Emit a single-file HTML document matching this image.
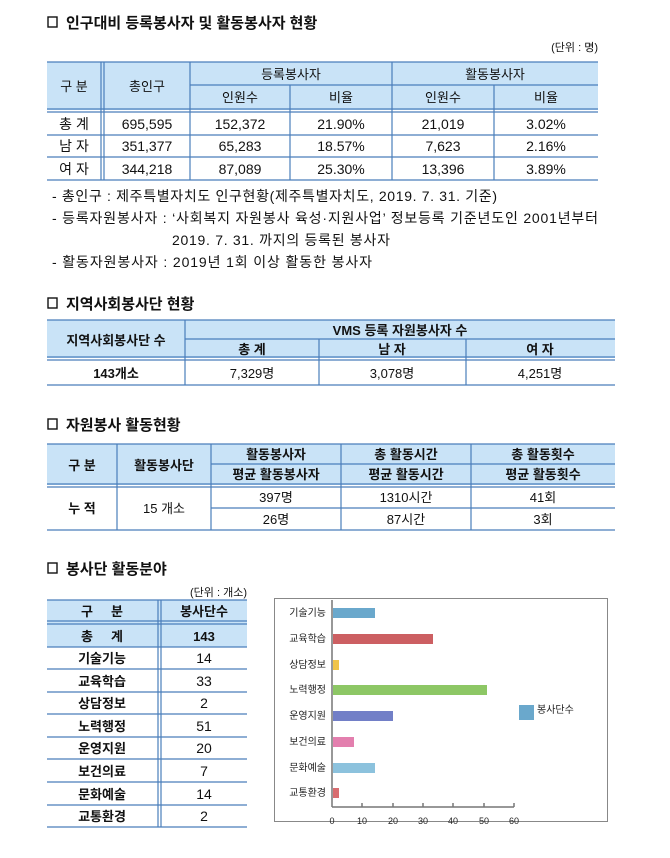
<!DOCTYPE html>
<html><head><meta charset="utf-8"><style>
html,body{margin:0;padding:0;background:#fff;}
svg{display:block;font-family:"Liberation Sans","Noto Sans CJK KR",sans-serif;}
</style></head><body>
<svg width="670" height="858" viewBox="0 0 670 858" xmlns="http://www.w3.org/2000/svg">
<g font-size="13" fill="#111">
<!-- Section 1 -->
<rect x="48" y="17" width="9" height="10" fill="none" stroke="#111" stroke-width="1.4"/>
<text x="66" y="28" font-size="15" font-weight="bold">인구대비 등록봉사자 및 활동봉사자 현황</text>
<text x="598" y="51" font-size="11" text-anchor="end">(단위 : 명)</text>
<rect x="47" y="62" width="551" height="48" fill="#c9e3f7"/>
<g stroke="#4a7ebb" stroke-width="1.2" fill="none">
<line x1="47" y1="62" x2="598" y2="62"/>
<line x1="190" y1="85" x2="598" y2="85"/>
<line x1="47" y1="109" x2="598" y2="109"/>
<line x1="47" y1="112" x2="598" y2="112"/>
<line x1="47" y1="135" x2="598" y2="135"/>
<line x1="47" y1="157" x2="598" y2="157"/>
<line x1="47" y1="180" x2="598" y2="180"/>
<line x1="101" y1="62" x2="101" y2="180"/>
<line x1="104" y1="62" x2="104" y2="180"/>
<line x1="190" y1="62" x2="190" y2="180"/>
<line x1="290" y1="85" x2="290" y2="180"/>
<line x1="392" y1="62" x2="392" y2="180"/>
<line x1="494" y1="85" x2="494" y2="180"/>
</g>
<g text-anchor="middle">
<text x="74" y="91">구 분</text><text x="147" y="91">총인구</text>
<text x="291" y="79">등록봉사자</text><text x="495" y="79">활동봉사자</text>
<text x="240" y="102">인원수</text><text x="341" y="102">비율</text>
<text x="443" y="102">인원수</text><text x="546" y="102">비율</text>
<g font-size="14">
<text x="74" y="129">총 계</text><text x="147" y="129">695,595</text><text x="240" y="129">152,372</text><text x="341" y="129">21.90%</text><text x="443" y="129">21,019</text><text x="546" y="129">3.02%</text>
<text x="74" y="151">남 자</text><text x="147" y="151">351,377</text><text x="240" y="151">65,283</text><text x="341" y="151">18.57%</text><text x="443" y="151">7,623</text><text x="546" y="151">2.16%</text>
<text x="74" y="174">여 자</text><text x="147" y="174">344,218</text><text x="240" y="174">87,089</text><text x="341" y="174">25.30%</text><text x="443" y="174">13,396</text><text x="546" y="174">3.89%</text>
</g>
</g>
<g font-size="14">
<text x="52" y="201" textLength="445">- 총인구 : 제주특별자치도 인구현황(제주특별자치도, 2019. 7. 31. 기준)</text>
<text x="52" y="223" textLength="546">- 등록자원봉사자 : ‘사회복지 자원봉사 육성·지원사업’ 정보등록 기준년도인 2001년부터</text>
<text x="172" y="245" textLength="218">2019. 7. 31. 까지의 등록된 봉사자</text>
<text x="52" y="267" textLength="320">- 활동자원봉사자 : 2019년 1회 이상 활동한 봉사자</text>
</g>

<!-- Section 2 -->
<rect x="48" y="298" width="9" height="10" fill="none" stroke="#111" stroke-width="1.4"/>
<text x="66" y="309" font-size="15" font-weight="bold">지역사회봉사단 현황</text>
<rect x="47" y="320" width="568" height="38" fill="#c9e3f7"/>
<g stroke="#4a7ebb" stroke-width="1.2">
<line x1="47" y1="320" x2="615" y2="320"/>
<line x1="185" y1="339" x2="615" y2="339"/>
<line x1="47" y1="357" x2="615" y2="357"/>
<line x1="47" y1="360" x2="615" y2="360"/>
<line x1="47" y1="385" x2="615" y2="385"/>
<line x1="185" y1="320" x2="185" y2="385"/>
<line x1="319" y1="339" x2="319" y2="385"/>
<line x1="466" y1="339" x2="466" y2="385"/>
</g>
<g text-anchor="middle" font-weight="bold">
<text x="116" y="345">지역사회봉사단 수</text>
<text x="400" y="335">VMS 등록 자원봉사자 수</text>
<text x="252" y="354">총 계</text><text x="392" y="354">남 자</text><text x="540" y="354">여 자</text>
<text x="116" y="378">143개소</text>
</g>
<g text-anchor="middle"><text x="252" y="378">7,329명</text><text x="392" y="378">3,078명</text><text x="540" y="378">4,251명</text></g>

<!-- Section 3 -->
<rect x="48" y="419" width="9" height="10" fill="none" stroke="#111" stroke-width="1.4"/>
<text x="66" y="430" font-size="15" font-weight="bold">자원봉사 활동현황</text>
<rect x="47" y="444" width="568" height="41" fill="#c9e3f7"/>
<g stroke="#4a7ebb" stroke-width="1.2">
<line x1="47" y1="444" x2="615" y2="444"/>
<line x1="211" y1="464" x2="615" y2="464"/>
<line x1="47" y1="484" x2="615" y2="484"/>
<line x1="47" y1="487" x2="615" y2="487"/>
<line x1="211" y1="508" x2="615" y2="508"/>
<line x1="47" y1="530" x2="615" y2="530"/>
<line x1="117" y1="444" x2="117" y2="530"/>
<line x1="211" y1="444" x2="211" y2="530"/>
<line x1="341" y1="444" x2="341" y2="530"/>
<line x1="471" y1="444" x2="471" y2="530"/>
</g>
<g text-anchor="middle">
<g font-weight="bold">
<text x="82" y="470">구 분</text><text x="164" y="470">활동봉사단</text>
<text x="276" y="459">활동봉사자</text><text x="406" y="459">총 활동시간</text><text x="543" y="459">총 활동횟수</text>
<text x="276" y="479">평균 활동봉사자</text><text x="406" y="479">평균 활동시간</text><text x="543" y="479">평균 활동횟수</text>
<text x="82" y="513">누 적</text>
</g>
<text x="164" y="513">15 개소</text>
<text x="276" y="502">397명</text><text x="406" y="502">1310시간</text><text x="543" y="502">41회</text>
<text x="276" y="524">26명</text><text x="406" y="524">87시간</text><text x="543" y="524">3회</text>
</g>

<!-- Section 4 -->
<rect x="48" y="563" width="9" height="10" fill="none" stroke="#111" stroke-width="1.4"/>
<text x="66" y="574" font-size="15" font-weight="bold">봉사단 활동분야</text>
<text x="247" y="596" font-size="11" text-anchor="end">(단위 : 개소)</text>
<rect x="47" y="600" width="200" height="47" fill="#c9e3f7"/>
<g stroke="#4a7ebb" stroke-width="1.2">
<line x1="47" y1="600" x2="247" y2="600"/>
<line x1="47" y1="621" x2="247" y2="621"/>
<line x1="47" y1="624" x2="247" y2="624"/>
<line x1="47" y1="647" x2="247" y2="647"/>
<line x1="47" y1="669" x2="247" y2="669"/>
<line x1="47" y1="692" x2="247" y2="692"/>
<line x1="47" y1="714" x2="247" y2="714"/>
<line x1="47" y1="737" x2="247" y2="737"/>
<line x1="47" y1="759" x2="247" y2="759"/>
<line x1="47" y1="782" x2="247" y2="782"/>
<line x1="47" y1="805" x2="247" y2="805"/>
<line x1="47" y1="827" x2="247" y2="827"/>
<line x1="158" y1="600" x2="158" y2="827"/>
<line x1="161" y1="600" x2="161" y2="827"/>
</g>
<g text-anchor="middle" font-weight="bold">
<text x="102" y="616">구 &#160; &#160; 분</text><text x="204" y="616">봉사단수</text>
<text x="102" y="641">총 &#160; &#160; 계</text><text x="204" y="641">143</text>
<text x="102" y="663">기술기능</text><text x="102" y="686">교육학습</text><text x="102" y="708">상담정보</text><text x="102" y="731">노력행정</text><text x="102" y="753">운영지원</text><text x="102" y="776">보건의료</text><text x="102" y="799">문화예술</text><text x="102" y="821">교통환경</text>
</g>
<g text-anchor="middle" font-size="14">
<text x="204" y="663">14</text><text x="204" y="686">33</text><text x="204" y="708">2</text><text x="204" y="731">51</text><text x="204" y="753">20</text><text x="204" y="776">7</text><text x="204" y="799">14</text><text x="204" y="821">2</text>
</g>

<!-- Chart -->
<rect x="274.5" y="598.5" width="333" height="223" fill="#fff" stroke="#888" stroke-width="1"/>
<g stroke="#777" stroke-width="1.5">
<line x1="332" y1="600" x2="332" y2="807"/>
<line x1="332" y1="807" x2="514" y2="807"/>
<line x1="362" y1="803" x2="362" y2="807"/><line x1="393" y1="803" x2="393" y2="807"/><line x1="423" y1="803" x2="423" y2="807"/><line x1="453" y1="803" x2="453" y2="807"/><line x1="484" y1="803" x2="484" y2="807"/><line x1="514" y1="803" x2="514" y2="807"/>
</g>
<rect x="333" y="608" width="42" height="10" fill="#6aa8cc"/>
<rect x="333" y="634" width="100" height="10" fill="#cc5f62"/>
<rect x="333" y="660" width="6" height="10" fill="#f0c44a"/>
<rect x="333" y="685" width="154" height="10" fill="#8dc765"/>
<rect x="333" y="711" width="60" height="10" fill="#727fc7"/>
<rect x="333" y="737" width="21" height="10" fill="#e37fae"/>
<rect x="333" y="763" width="42" height="10" fill="#8cc2dd"/>
<rect x="333" y="788" width="6" height="10" fill="#d86d70"/>
<g font-size="10" text-anchor="end" fill="#222">
<text x="326" y="616">기술기능</text><text x="326" y="642">교육학습</text><text x="326" y="668">상담정보</text><text x="326" y="693">노력행정</text><text x="326" y="719">운영지원</text><text x="326" y="745">보건의료</text><text x="326" y="771">문화예술</text><text x="326" y="796">교통환경</text>
</g>
<g font-size="9" text-anchor="middle" fill="#222">
<text x="332" y="824">0</text><text x="362" y="824">10</text><text x="393" y="824">20</text><text x="423" y="824">30</text><text x="453" y="824">40</text><text x="484" y="824">50</text><text x="514" y="824">60</text>
</g>
<rect x="519" y="705" width="15" height="15" fill="#6aa8cc"/>
<text x="537" y="713" font-size="10" fill="#222">봉사단수</text>
</g>
</svg>
</body></html>
